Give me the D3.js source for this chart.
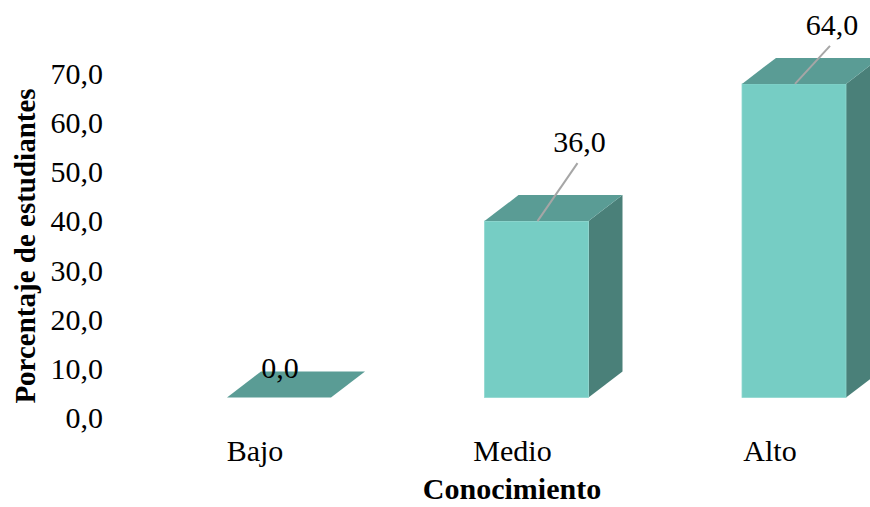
<!DOCTYPE html>
<html>
<head>
<meta charset="utf-8">
<script src="https://cdn.jsdelivr.net/npm/d3@7"></script>
<style>
  html, body { margin: 0; padding: 0; background: #fff; }
  svg { display: block; }
  text { font-family: "Liberation Serif", "Times New Roman", serif; fill: #000; }
</style>
</head>
<body>
<svg id="chart" width="870" height="507"></svg>
<script>
const categories = ["Bajo", "Medio", "Alto"];
const values = [0.0, 36.0, 64.0];
const yTickValues = [0, 10, 20, 30, 40, 50, 60, 70];
const yTitle = "Porcentaje de estudiantes";
const xTitle = "Conocimiento";

const fmt = v => d3.format(".1f")(v).replace(".", ",");

const svg = d3.select("#chart");

const depthX = 34, depthY = 26;
const barW = 104;
const baseY = 397.5;

const x = d3.scalePoint().domain(categories).range([279, 794]);
const yBar = d3.scaleLinear().domain([0, 70]).range([baseY, baseY - 70 * 4.9]);
const yLabel = d3.scaleLinear().domain([0, 70]).range([428, 84]);

const colFront = "#76CDC4", colTop = "#5A9C95", colSide = "#4A8079";
const fs = 30;

// y tick labels
svg.append("g").selectAll("text").data(yTickValues).join("text")
  .attr("x", 103).attr("y", d => yLabel(d))
  .attr("text-anchor", "end").attr("font-size", fs)
  .text(d => fmt(d));

// bars
const g = svg.append("g");
categories.forEach((c, i) => {
  const cx = x(c), x0 = cx - barW / 2, x1 = cx + barW / 2;
  const yt = yBar(values[i]), yb = yBar(0);
  g.append("path")
    .attr("d", `M${x1},${yt} L${x1 + depthX},${yt - depthY} L${x1 + depthX},${yb - depthY} L${x1},${yb} Z`)
    .attr("fill", colSide);
  if (yb - yt > 0) {
    g.append("rect").attr("x", x0).attr("y", yt).attr("width", barW).attr("height", yb - yt)
      .attr("fill", colFront).attr("stroke", "#8FD8D0").attr("stroke-width", 0.8);
  }
  g.append("path")
    .attr("d", `M${x0},${yt} L${x1},${yt} L${x1 + depthX},${yt - depthY} L${x0 + depthX},${yt - depthY} Z`)
    .attr("fill", colTop);
});

// value labels with leader lines
const labelShift = [[1, -20], [43, -69], [38, -49]];
categories.forEach((c, i) => {
  const cx = x(c), yt = yBar(values[i]);
  const lx = cx + labelShift[i][0], ly = yt + labelShift[i][1];
  if (i > 0) {
    svg.append("line")
      .attr("x1", lx - 2).attr("y1", ly + 11)
      .attr("x2", cx + 1).attr("y2", yt)
      .attr("stroke", "#A6A6A6").attr("stroke-width", 2);
  }
  svg.append("text").attr("x", lx).attr("y", ly)
    .attr("text-anchor", "middle").attr("font-size", fs)
    .text(fmt(values[i]));
});

// category labels
svg.append("g").selectAll("text").data(categories).join("text")
  .attr("x", d => x(d) - 24).attr("y", 461)
  .attr("text-anchor", "middle").attr("font-size", fs)
  .text(d => d);

// axis titles
svg.append("text").attr("x", 512).attr("y", 499)
  .attr("text-anchor", "middle").attr("font-size", 30).attr("font-weight", "bold")
  .text(xTitle);

svg.append("text")
  .attr("transform", "translate(35,246) rotate(-90)")
  .attr("text-anchor", "middle").attr("font-size", 29).attr("font-weight", "bold")
  .text(yTitle);
</script>
</body>
</html>
